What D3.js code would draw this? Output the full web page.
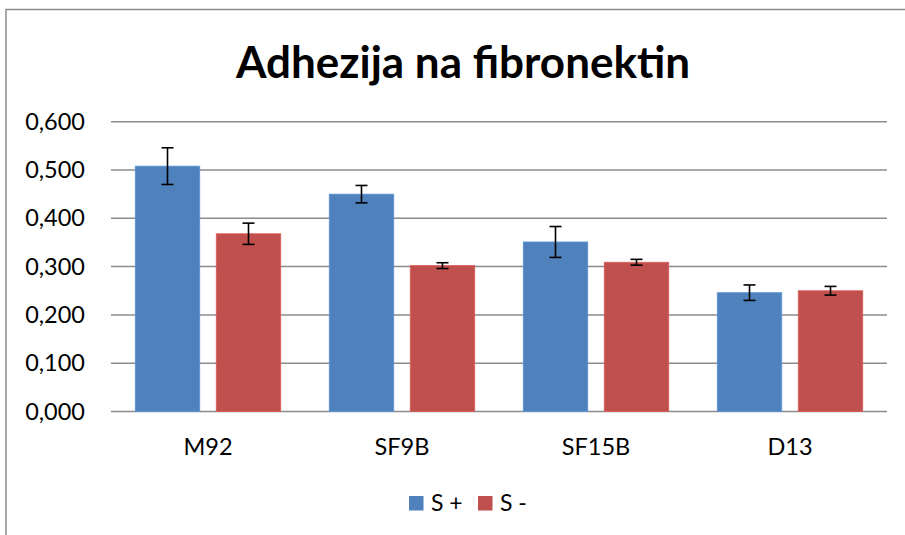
<!DOCTYPE html>
<html>
<head>
<meta charset="utf-8">
<script src="https://cdn.jsdelivr.net/npm/d3@7"></script>
<style>
  body { margin: 0; background: #fff; }
  svg { display: block; font-family: Lato, "Open Sans", sans-serif; }
</style>
</head>
<body>
<svg id="chart" width="905" height="535"></svg>
<script>
const categories = ['M92', 'SF9B', 'SF15B', 'D13'];
const seriesNames = ['S +', 'S -'];
const sPlus = [0.508, 0.450, 0.351, 0.246];
const sMinus = [0.368, 0.302, 0.309, 0.250];
const errPlus = [0.038, 0.018, 0.032, 0.016];
const errMinus = [0.022, 0.006, 0.006, 0.009];
const yTicks = [0, 0.1, 0.2, 0.3, 0.4, 0.5, 0.6];
const colors = ['#4F81BD', '#C0504D'];

const svg = d3.select('#chart');

// chart frame (right and bottom cut off in the original)
svg.append('path')
  .attr('d', 'M6,540 L6,9.5 L910,9.5')
  .attr('fill', 'none')
  .attr('stroke', '#8a8a8a')
  .attr('stroke-width', 1.5);

svg.append('text')
  .attr('x', 463)
  .attr('y', 78)
  .attr('text-anchor', 'middle')
  .attr('font-size', 44)
  .attr('font-weight', 'bold')
  .attr('fill', '#000')
  .text('Adhezija na fibronektin');

const x = d3.scaleBand().domain(categories).range([111, 887]);
const y = d3.scaleLinear().domain([0, 0.6]).range([411.5, 121.7]);

const fmt = v => d3.format('.3f')(v).replace('.', ',');

// gridlines
svg.append('g')
  .selectAll('line')
  .data(yTicks)
  .join('line')
  .attr('x1', 111).attr('x2', 887)
  .attr('y1', d => y(d)).attr('y2', d => y(d))
  .attr('stroke', '#8c8c8c')
  .attr('stroke-width', 1.5);

// y axis labels
const yAxis = svg.append('g')
  .attr('transform', 'translate(111,0)')
  .call(d3.axisLeft(y).tickValues(yTicks).tickFormat(fmt).tickSize(0).tickPadding(26));
yAxis.select('.domain').remove();
yAxis.selectAll('text')
  .attr('font-size', 23.5)
  .attr('font-family', 'Lato, "Open Sans", sans-serif')
  .attr('fill', '#000');

// x axis labels
const xAxis = svg.append('g')
  .attr('transform', `translate(0,${y(0)})`)
  .call(d3.axisBottom(x).tickSize(0).tickPadding(26.5));
xAxis.select('.domain').remove();
xAxis.selectAll('text')
  .attr('font-size', 23.5)
  .attr('font-family', 'Lato, "Open Sans", sans-serif')
  .attr('fill', '#000');

// bars
const bw = x.bandwidth() * 64.5 / 194;
const innerGap = x.bandwidth() * 16.5 / 194;
const series = [
  { values: sPlus, errs: errPlus },
  { values: sMinus, errs: errMinus },
];

series.forEach((s, si) => {
  const barX = c => x(c) + x.bandwidth() / 2 + (si === 0 ? -innerGap / 2 - bw : innerGap / 2);
  const g = svg.append('g');
  g.selectAll('rect')
    .data(categories)
    .join('rect')
    .attr('x', c => barX(c))
    .attr('width', bw)
    .attr('y', (c, i) => y(s.values[i]))
    .attr('height', (c, i) => y(0) - y(s.values[i]))
    .attr('fill', colors[si])
    .attr('stroke', d3.color(colors[si]).brighter(0.4))
    .attr('stroke-width', 0.8);

  const eg = g.selectAll('g.err')
    .data(categories)
    .join('g')
    .attr('class', 'err')
    .attr('stroke', '#000')
    .attr('stroke-width', 1.6);
  eg.append('line')
    .attr('x1', c => barX(c) + bw / 2).attr('x2', c => barX(c) + bw / 2)
    .attr('y1', (c, i) => y(s.values[i] + s.errs[i]))
    .attr('y2', (c, i) => y(s.values[i] - s.errs[i]));
  [1, -1].forEach(sign => {
    eg.append('line')
      .attr('x1', c => barX(c) + bw / 2 - 6).attr('x2', c => barX(c) + bw / 2 + 6)
      .attr('y1', (c, i) => y(s.values[i] + sign * s.errs[i]))
      .attr('y2', (c, i) => y(s.values[i] + sign * s.errs[i]));
  });
});

// legend
const legendX = [409, 478];
const legend = svg.append('g');
seriesNames.forEach((name, i) => {
  legend.append('rect')
    .attr('x', legendX[i]).attr('y', 496)
    .attr('width', 14.5).attr('height', 14.5)
    .attr('fill', colors[i]);
  legend.append('text')
    .attr('x', legendX[i] + 22).attr('y', 511)
    .attr('font-size', 23)
    .attr('fill', '#000')
    .text(name);
});
</script>
</body>
</html>
